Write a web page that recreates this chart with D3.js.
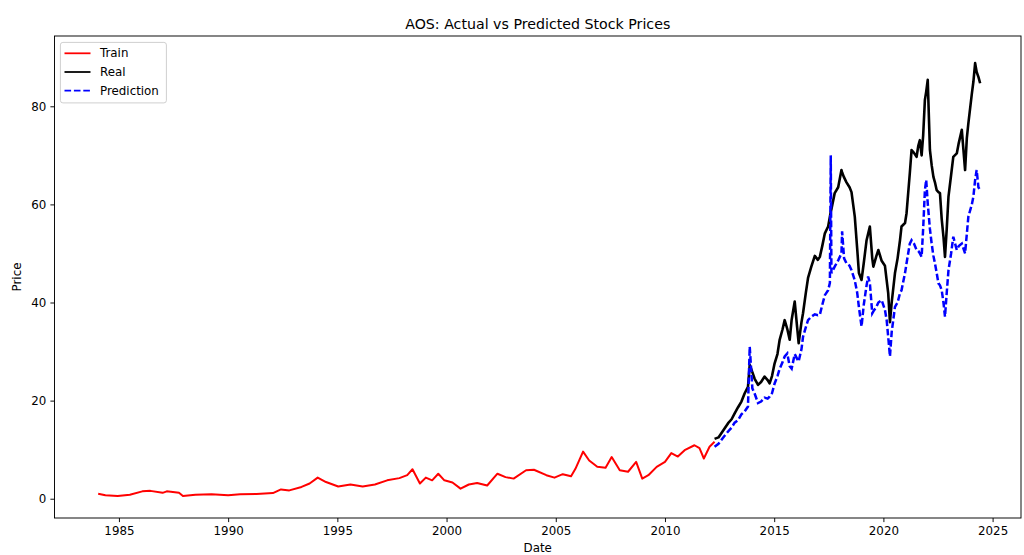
<!DOCTYPE html>
<html>
<head>
<meta charset="utf-8">
<script src="https://cdn.jsdelivr.net/npm/d3@7"></script>
<style>
  html, body { margin: 0; padding: 0; background: #fff; }
  svg { display: block; font-family: "DejaVu Sans", sans-serif; }
</style>
</head>
<body>
<svg id="chart" width="1024" height="555"></svg>
<script>
// ---- Data (decimal years, prices) ----
const trainDates = [1984.05,1984.38,1984.94,1985.5,1986.07,1986.44,1987.0,1987.19,1987.75,1987.93,1988.5,1989.24,1990.0,1990.55,1991.3,1992.05,1992.42,1992.8,1993.36,1993.73,1994.1,1994.48,1995.04,1995.6,1996.16,1996.72,1997.28,1997.84,1998.2,1998.44,1998.78,1999.05,1999.34,1999.62,1999.9,2000.27,2000.64,2001.02,2001.4,2001.86,2002.33,2002.7,2003.07,2003.64,2004.0,2004.57,2004.94,2005.32,2005.7,2005.9,2006.25,2006.53,2006.9,2007.28,2007.56,2007.93,2008.31,2008.68,2008.96,2009.24,2009.62,2010.0,2010.29,2010.59,2010.9,2011.35,2011.58,2011.78,2012.04,2012.27];
const trainPrices = [1.0,0.7,0.55,0.8,1.5,1.6,1.2,1.5,1.2,0.55,0.8,0.9,0.7,0.9,0.95,1.15,1.9,1.7,2.4,3.1,4.3,3.4,2.5,2.9,2.5,2.9,3.75,4.2,4.8,6.0,3.1,4.3,3.75,5.1,3.75,3.3,2.05,2.9,3.2,2.7,5.1,4.4,4.1,5.8,5.9,4.8,4.3,5.0,4.6,6.1,9.6,7.8,6.5,6.3,8.5,5.8,5.5,7.5,4.1,4.8,6.5,7.5,9.3,8.6,9.9,10.9,10.3,8.2,10.6,11.6];

const testDates = [2012.27,2012.45,2012.65,2012.89,2013.05,2013.19,2013.34,2013.5,2013.65,2013.8,2013.88,2014.0,2014.1,2014.26,2014.4,2014.56,2014.7,2014.79,2014.9,2015.02,2015.15,2015.25,2015.38,2015.48,2015.6,2015.71,2015.8,2015.94,2016.05,2016.12,2016.25,2016.32,2016.45,2016.55,2016.7,2016.86,2017.0,2017.09,2017.2,2017.32,2017.47,2017.55,2017.59,2017.62,2017.77,2017.93,2018.08,2018.11,2018.2,2018.31,2018.45,2018.54,2018.69,2018.8,2018.88,2019.0,2019.1,2019.23,2019.3,2019.38,2019.49,2019.54,2019.68,2019.77,2019.92,2020.07,2020.15,2020.22,2020.3,2020.38,2020.53,2020.65,2020.76,2020.83,2020.99,2021.06,2021.21,2021.29,2021.4,2021.52,2021.6,2021.67,2021.75,2021.82,2021.9,2021.96,2022.03,2022.13,2022.21,2022.29,2022.36,2022.44,2022.52,2022.59,2022.67,2022.75,2022.82,2022.9,2022.98,2023.1,2023.2,2023.36,2023.45,2023.59,2023.74,2023.82,2023.89,2024.05,2024.12,2024.2,2024.27,2024.35,2024.43];
const realPrices = [12.2,12.5,13.8,15.4,16.2,17.4,18.6,19.8,21.5,22.8,27.3,25.8,24.5,23.2,23.8,24.9,24.2,23.5,25.0,27.6,29.5,32.4,34.5,36.4,34.6,32.4,36.5,40.2,35.0,31.7,36.0,37.8,42.0,45.0,47.3,49.5,48.7,49.3,51.5,54.1,55.5,57.5,58.5,59.0,62.3,63.5,67.0,66.5,65.5,64.5,63.5,62.5,57.5,51.0,46.0,44.6,48.0,52.7,54.0,55.5,49.0,47.3,49.5,50.7,48.5,47.5,44.5,41.9,36.0,40.0,46.0,49.0,52.7,55.5,56.2,58.2,66.4,71.1,70.5,69.7,72.0,73.1,70.0,74.0,81.3,83.0,85.4,71.1,68.0,65.6,64.5,62.9,62.5,62.3,57.0,53.4,49.3,55.0,61.6,66.0,69.7,70.4,72.5,75.2,67.0,73.5,76.5,82.6,85.0,88.8,87.0,86.0,84.7];
const predPrices = [10.6,11.2,12.4,13.7,14.5,15.5,16.0,17.2,17.8,18.8,31.0,22.5,21.5,19.5,19.8,20.6,20.4,20.8,21.5,23.5,25.0,26.5,27.8,29.0,29.6,27.0,26.5,29.5,28.5,28.0,30.5,33.0,35.0,36.4,37.1,37.6,37.4,37.5,39.5,41.5,42.5,44.0,70.0,46.0,47.3,48.6,50.0,54.5,49.0,48.0,47.5,46.6,44.5,42.0,39.0,35.1,39.5,43.5,45.3,44.0,37.8,38.2,39.1,40.0,40.5,38.5,36.4,33.0,29.0,34.0,39.1,40.0,41.9,42.5,46.0,48.0,52.0,52.7,52.0,50.7,50.5,50.0,49.3,55.0,62.9,65.0,60.2,55.0,52.0,49.5,48.0,46.0,43.9,43.5,42.5,40.0,37.1,42.0,46.6,50.0,53.4,50.7,51.5,52.0,50.0,54.0,57.5,60.0,61.6,65.0,67.0,63.5,62.9];

const xTicks = [1985, 1990, 1995, 2000, 2005, 2010, 2015, 2020, 2025];
const yTicks = [0, 20, 40, 60, 80];
const seriesNames = ["Train", "Real", "Prediction"];
const seriesColors = ["#ff0000", "#000000", "#0000ff"];

// ---- Layout ----
const svg = d3.select("#chart");
const M = { left: 54.5, right: 1021, top: 36, bottom: 518 };

const x = d3.scaleLinear().domain([1982.05, 2026.3]).range([M.left, M.right]);
const y = d3.scaleLinear().domain([-3.93, 94.33]).range([M.bottom, M.top]);

const FS = 11.85;

// Axes
const xAxis = d3.axisBottom(x).tickValues(xTicks).tickFormat(d3.format("d")).tickSize(4.1).tickPadding(4.1);
const yAxis = d3.axisLeft(y).tickValues(yTicks).tickFormat(d3.format("d")).tickSize(4.1).tickPadding(4.1);

const gx = svg.append("g").attr("transform", `translate(0,${M.bottom})`).call(xAxis);
const gy = svg.append("g").attr("transform", `translate(${M.left},0)`).call(yAxis);
[gx, gy].forEach(g => {
  g.select(".domain").remove();
  g.selectAll(".tick line").attr("stroke", "#000").attr("stroke-width", 0.95);
  g.selectAll(".tick text").attr("fill", "#000").style("font-size", FS + "px").style("font-family", "DejaVu Sans");
});

// Lines
svg.append("clipPath").attr("id", "clip").append("rect")
  .attr("x", M.left).attr("y", M.top).attr("width", M.right - M.left).attr("height", M.bottom - M.top);

const line = d3.line().x(d => x(d[0])).y(d => y(d[1]));
const plot = svg.append("g").attr("clip-path", "url(#clip)");

plot.append("path").datum(d3.zip(trainDates, trainPrices))
  .attr("d", line).attr("fill", "none").attr("stroke", seriesColors[0])
  .attr("stroke-width", 2.0).attr("stroke-linejoin", "round");
plot.append("path").datum(d3.zip(testDates, realPrices))
  .attr("d", line).attr("fill", "none").attr("stroke", seriesColors[1])
  .attr("stroke-width", 2.6).attr("stroke-linejoin", "round");
plot.append("path").datum(d3.zip(testDates, predPrices))
  .attr("d", line).attr("fill", "none").attr("stroke", seriesColors[2])
  .attr("stroke-width", 2.5).attr("stroke-dasharray", "6.6,2.8");

// Frame
svg.append("rect").attr("x", M.left).attr("y", M.top)
  .attr("width", M.right - M.left).attr("height", M.bottom - M.top)
  .attr("fill", "none").attr("stroke", "#000").attr("stroke-width", 0.95);

// Title and labels
svg.append("text").attr("x", (M.left + M.right) / 2).attr("y", 29)
  .attr("text-anchor", "middle").style("font-size", "14.2px").attr("fill", "#000")
  .text("AOS: Actual vs Predicted Stock Prices");
svg.append("text").attr("x", (M.left + M.right) / 2).attr("y", 552)
  .attr("text-anchor", "middle").style("font-size", FS + "px").attr("fill", "#000")
  .text("Date");
svg.append("text").attr("transform", `translate(21,${(M.top + M.bottom) / 2}) rotate(-90)`)
  .attr("text-anchor", "middle").style("font-size", FS + "px").attr("fill", "#000")
  .text("Price");

// Legend
const lg = svg.append("g");
lg.append("rect").attr("x", 60.4).attr("y", 42.4).attr("width", 106).attr("height", 60.5)
  .attr("rx", 2.5).attr("ry", 2.5)
  .attr("fill", "#fff").attr("fill-opacity", 0.8).attr("stroke", "#cccccc").attr("stroke-width", 0.95);
seriesNames.forEach((name, i) => {
  const cy = 53.3 + i * 18.7;
  lg.append("line").attr("x1", 64.5).attr("x2", 90.5).attr("y1", cy).attr("y2", cy)
    .attr("stroke", seriesColors[i]).attr("stroke-width", 1.78)
    .attr("stroke-dasharray", i === 2 ? "6.6,2.8" : null);
  lg.append("text").attr("x", 100).attr("y", cy).attr("dy", "0.35em")
    .style("font-size", FS + "px").attr("fill", "#000").text(name);
});
</script>
</body>
</html>
